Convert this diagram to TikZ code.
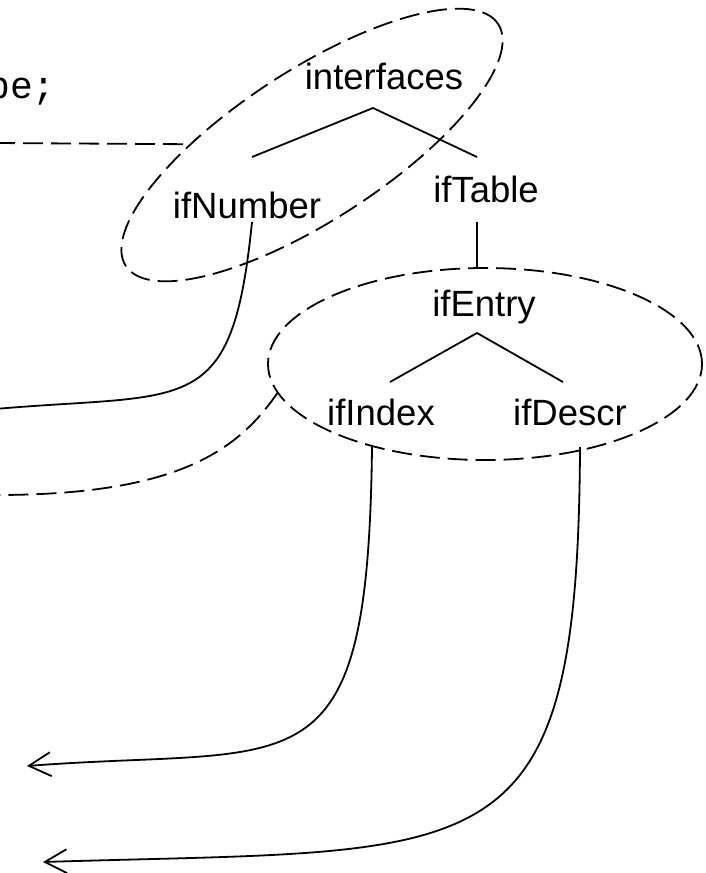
\documentclass[tikz,border=0pt]{standalone}
\usepackage{fontspec}
\setsansfont{Liberation Sans}
\setmonofont{Liberation Mono}
\usetikzlibrary{arrows.meta,calc,shapes.geometric}
\begin{document}
\begin{tikzpicture}[x=1pt,y=-1pt,
  lab/.style={inner sep=0pt, anchor=base, font=\sffamily\fontsize{36.5}{44}\selectfont},
  code/.style={inner sep=0pt, anchor=base west, font=\ttfamily\fontsize{38}{44}\selectfont},
  conn/.style={line width=1.8pt},
  grp/.style={draw, ellipse, line width=1.8pt, dash pattern=on 20pt off 8pt, inner sep=0pt},
  gline/.style={line width=1.8pt, dash pattern=on 20pt off 8pt},
  tipend/.style={-{Straight Barb[length=22pt,width=24pt]}}
]
\useasboundingbox (0,0) rectangle (706,873);
\clip (0,0) rectangle (706,873);

% texts
\node[code] (pe) at (-13,98) {pe;};
\node[lab] (interfaces) at (384,89) {interfaces};
\node[lab] (ifNumber) at (247,218) {ifNumber};
\node[lab] (ifTable) at (486,202) {ifTable};
\node[lab] (ifEntry) at (484,316) {ifEntry};
\node[lab] (ifIndex) at (381,425) {ifIndex};
\node[lab] (ifDescr) at (570,425) {ifDescr};

% group ellipses
\node[grp, minimum width=444pt, minimum height=150pt, rotate=33] (e1) at (312,145) {};
\node[grp, minimum width=434pt, minimum height=192pt] (e2) at (485,364) {};

% free ends
\coordinate (hl) at (-5,143);
\coordinate (dl) at (-5,495);
\coordinate (nl) at (-5,409);
\coordinate (tipA) at (27,766);
\coordinate (tipB) at (43,862);

% tree edges
\draw[conn] ($(ifNumber.base)+(5,-61)$) -- ($(interfaces.base)+(-11,19)$) -- ($(ifTable.base)+(-9,-45)$);
\draw[conn] ($(ifTable.base)+(-9,20)$) -- ($(ifEntry.base)+(-7,-48)$);
\draw[conn] ($(ifIndex.base)+(9,-43)$) -- ($(ifEntry.base)+(-7,17)$) -- ($(ifDescr.base)+(-7,-43)$);

% dashed connectors
\draw[gline] (hl) -- (e1);
\draw[gline] (e2.188) .. controls (235,455) and (170,495) .. (dl);

% solid curves
\draw[conn] ($(ifNumber.base)+(5,4)$) .. controls (232,420) and (190,392) .. (nl);
\draw[conn, tipend] ($(ifIndex.base)+(-9,22)$) .. controls (368,800) and (300,745) .. (tipA);
\draw[conn, tipend] ($(ifDescr.base)+(10,22)$) .. controls (578,880) and (490,848) .. (tipB);
\end{tikzpicture}
\end{document}
